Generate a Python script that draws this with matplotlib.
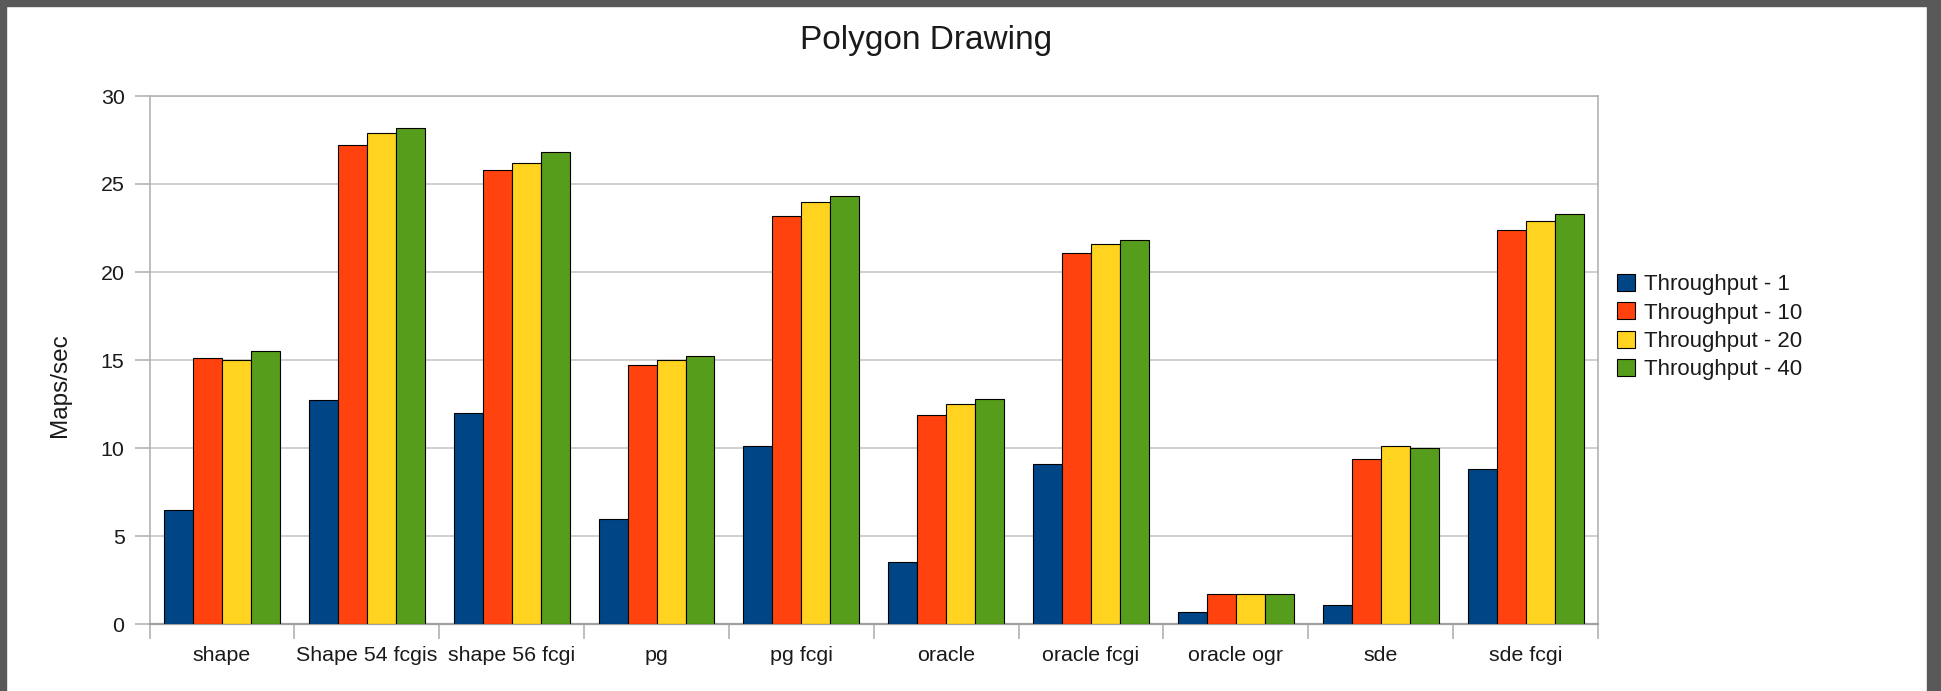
import matplotlib
matplotlib.use("Agg")
import matplotlib.pyplot as plt
from matplotlib.patches import Rectangle
import numpy as np

plt.rcParams['font.family'] = ['Liberation Sans', 'DejaVu Sans']

categories = ["shape", "Shape 54 fcgis", "shape 56 fcgi", "pg", "pg fcgi",
              "oracle", "oracle fcgi", "oracle ogr", "sde", "sde fcgi"]
series_names = ["Throughput - 1", "Throughput - 10", "Throughput - 20", "Throughput - 40"]
t1 = [6.5, 12.7, 12.0, 5.95, 10.1, 3.5, 9.1, 0.7, 1.1, 8.8]
t10 = [15.1, 27.2, 25.8, 14.7, 23.2, 11.9, 21.1, 1.7, 9.4, 22.4]
t20 = [15.0, 27.9, 26.2, 15.0, 24.0, 12.5, 21.6, 1.7, 10.1, 22.9]
t40 = [15.5, 28.2, 26.8, 15.2, 24.3, 12.8, 21.8, 1.7, 10.0, 23.3]
series = [t1, t10, t20, t40]
colors = ["#004586", "#ff420e", "#ffd320", "#579d1c"]
yticks = [0, 5, 10, 15, 20, 25, 30]

W, H = 1941, 691
fig = plt.figure(figsize=(W / 100, H / 100), dpi=100)
fig.patch.set_facecolor("white")

# dark frame around the chart window
frame_col = "#595959"
fig.patches.append(Rectangle((0, 1 - 6 / H), 1, 6 / H, transform=fig.transFigure,
                             color=frame_col, zorder=10))
fig.patches.append(Rectangle((0, 0), 6 / W, 1, transform=fig.transFigure,
                             color=frame_col, zorder=10))
fig.patches.append(Rectangle((1 - 14 / W, 0), 14 / W, 1, transform=fig.transFigure,
                             color=frame_col, zorder=10))

left, right, top, bottom = 149.6, 1598, 96, 624
ax = fig.add_axes([left / W, 1 - bottom / H, (right - left) / W, (bottom - top) / H])

x = np.arange(len(categories))
bw = 0.2
offsets = [-0.3, -0.1, 0.1, 0.3]
handles = []
for s, off, c, name in zip(series, offsets, colors, series_names):
    h = ax.bar(x + off, s, width=bw, color=c, edgecolor="black", linewidth=0.8,
               label=name, zorder=3)
    handles.append(h)

ax.set_xlim(-0.5, len(categories) - 0.5)
ax.set_ylim(0, 30)
ax.set_yticks(yticks)
ax.set_yticklabels([str(v) for v in yticks], fontsize=15.4, color="#1a1a1a")
ax.yaxis.grid(True, color="#c8c8c8", linewidth=1.2, zorder=0)
ax.set_axisbelow(True)

ax.set_xticks(x)
ax.set_xticklabels(categories, fontsize=15.4, color="#1a1a1a")
ax.set_xticks(np.arange(-0.5, len(categories), 1.0), minor=True)
ax.tick_params(axis="x", which="major", length=0, pad=16)
ax.tick_params(axis="x", which="minor", length=11, width=1.2, color="#b3b3b3", direction="out")
ax.tick_params(axis="y", length=11, width=1.2, color="#b3b3b3", pad=7, direction="out")

for side in ["left", "right", "top", "bottom"]:
    ax.spines[side].set_color("#b3b3b3")
    ax.spines[side].set_linewidth(1.2)
ax.spines["bottom"].set_color("#a0a0a0")
ax.spines["bottom"].set_linewidth(1.6)

fig.text(926 / W, 1 - 40 / H, "Polygon Drawing", fontsize=24, color="#1a1a1a",
         ha="center", va="center")
fig.text(60 / W, 1 - 385 / H, "Maps/sec", fontsize=17.5, color="#1a1a1a",
         ha="center", va="center", rotation=90)

fig.legend(handles=handles, labels=series_names, loc="upper left",
           bbox_to_anchor=(1617 / W, 1 - 274 / H), frameon=False, fontsize=16,
           handlelength=0.8, handleheight=0.8, handletextpad=0.4, labelspacing=0.32,
           borderpad=0, borderaxespad=0, labelcolor="#1a1a1a")

fig.savefig("out.png", dpi=100, facecolor="white")
